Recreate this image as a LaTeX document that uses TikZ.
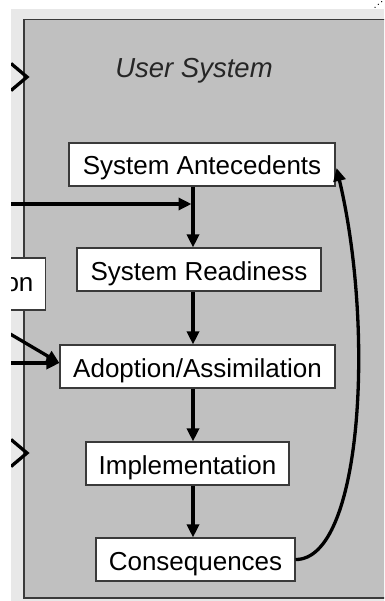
\documentclass[tikz,border=0pt]{standalone}
\usepackage{fontspec}
\setmainfont{Liberation Sans}
\usetikzlibrary{arrows.meta,calc}
\definecolor{lightbg}{HTML}{E8E8E8}
\definecolor{boxgray}{HTML}{C0C0C0}
\definecolor{edge}{HTML}{3A3A3A}
\begin{document}
\begin{tikzpicture}[x=1pt,y=-1pt,
  stage/.style={draw=edge,line width=1.1pt,fill=white,minimum height=43pt,inner sep=0pt,
    text height=26pt,text depth=5pt,font=\fontsize{26}{30}\selectfont},
  flow/.style={line width=3.3pt,-{Triangle[length=13pt,width=12pt]}},
  chev/.style={line width=3.3pt,line join=miter}]
\useasboundingbox (0,0) rectangle (384,601);
\fill[white] (0,0) rectangle (384,601);
\begin{scope}
\clip (11,9) rectangle (384,601);
\fill[lightbg] (11,9) rectangle (384,601);
\draw[edge,line width=1.4pt,fill=boxgray] (24,19.5) -- (400,19.5) -- (400,598) -- (24,598) -- cycle;
\node[font=\fontsize{27.5}{30}\selectfont\itshape,anchor=base,text=black!85] (title) at (194,77.5) {User System};
\node[stage,minimum width=266pt] (ant) at (202,164.5) {System Antecedents};
\node[stage,minimum width=244pt] (ready) at (199,269.5) {System Readiness};
\node[stage,minimum width=275pt] (adopt) at (197.5,366.5) {Adoption/Assimilation};
\node[stage,minimum width=203pt] (impl) at (187.5,463.5) {Implementation};
\node[stage,minimum width=199pt] (cons) at (195.5,559.5) {Consequences};
\node[stage,minimum height=52pt,inner xsep=12pt,text height=23pt,text depth=7.6pt,anchor=east] (org) at (46,284) {on};
\coordinate (col) at (193,0);
\coordinate (in1) at (0,204);
\coordinate (in2) at (0,363);
\coordinate (in3) at (0,328);
\draw[flow] (ant.south -| col) -- (ready.north -| col);
\draw[flow] (ready.south -| col) -- (adopt.north -| col);
\draw[flow] (adopt.south -| col) -- (impl.north -| col);
\draw[flow] (impl.south -| col) -- (cons.north -| col);
\draw[flow,shorten >=1.5pt] (in1) -- (in1 -| col);
\draw[flow] (in2) -- (adopt.west |- in2);
\draw[flow] (in3) -- (adopt.west |- in2);
\draw[flow] (cons.east) .. controls (362,560) and (375,330) .. ($(ant.east)+(1,3.5)$);
\coordinate (c1a) at (11,63.5); \coordinate (c1b) at (27,77); \coordinate (c1c) at (11,90.5);
\draw[chev] (c1a) -- (c1b) -- (c1c);
\coordinate (c2a) at (11,439.5); \coordinate (c2b) at (27,453); \coordinate (c2c) at (11,466.5);
\draw[chev] (c2a) -- (c2b) -- (c2c);
\end{scope}
\fill (375,7.3) circle (0.7pt) (378.3,4.3) circle (0.7pt) (381.7,1.7) circle (0.7pt);
\end{tikzpicture}
\end{document}
